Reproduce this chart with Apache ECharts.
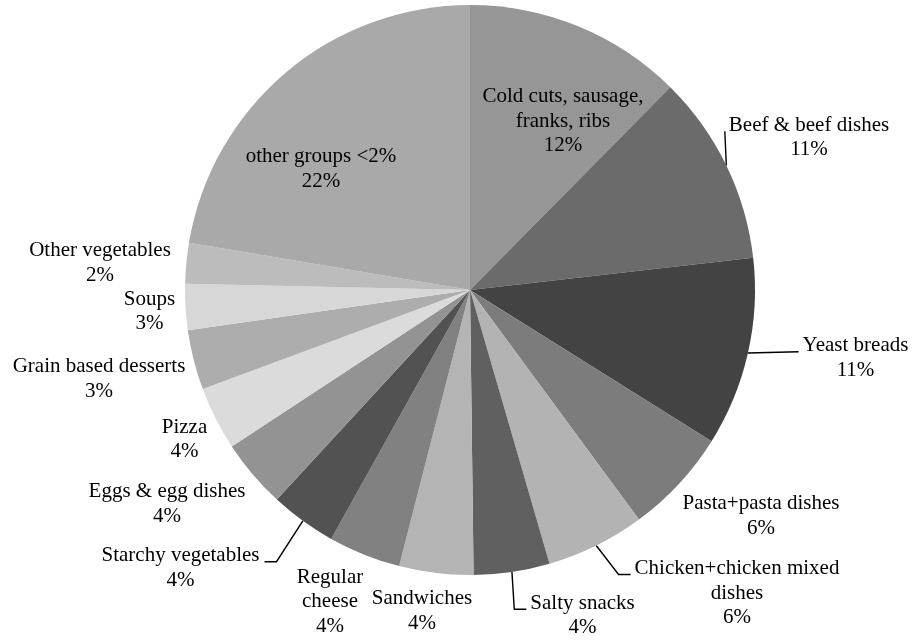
<!DOCTYPE html>
<html>
<head>
<meta charset="utf-8">
<script src="https://cdn.jsdelivr.net/npm/echarts@6/dist/echarts.min.js"></script>
<style>html,body{margin:0;padding:0;background:#fff}#c{width:913px;height:640px}</style>
</head>
<body>
<div id="c"></div>
<script>
// ---- data ----
const categories = [
  'Cold cuts, sausage,\nfranks, ribs',
  'Beef & beef dishes',
  'Yeast breads',
  'Pasta+pasta dishes',
  'Chicken+chicken mixed\ndishes',
  'Salty snacks',
  'Sandwiches',
  'Regular\ncheese',
  'Starchy vegetables',
  'Eggs & egg dishes',
  'Pizza',
  'Grain based desserts',
  'Soups',
  'Other vegetables',
  'other groups <2%'
];
const values = [12.4, 10.8, 10.7, 6.0, 5.6, 4.3, 4.2, 4.1, 3.75, 3.9, 3.6, 3.4, 2.6, 2.3, 22.35];

// ---- styles ----
const colors = ['#969696', '#6b6b6b', '#434343', '#7c7c7c', '#b3b3b3', '#606060', '#b4b4b4', '#818181',
                '#525252', '#939393', '#dbdbdb', '#adadad', '#d7d7d7', '#bcbcbc', '#a9a9a9'];
// label block centres (text placement) and leader line kind
const labelCenter = [[563,121],[809,137.5],[855.5,358],[761,516],[737,593],[582.5,615.5],[422,611],[330,601.5],
                     [180.5,568],[167,504],[184.5,439.5],[99,379],[149.5,311.5],[100,263],[321,169]];
const leader = ['none','direct','direct','none','shoulder','shoulder','none','none',
                'shoulder','none','none','none','none','none','none'];

const CX = 470, CY = 290, R = 285, FS = 21, LH = 24.5;

const total = values.reduce((a, b) => a + b, 0);
const midAngle = [];
let acc = 0;
values.forEach(v => { midAngle.push((acc + v / 2) / total * Math.PI * 2); acc += v; });

const chart = echarts.init(document.getElementById('c'), null, {renderer: 'canvas'});
chart.setOption({
  animation: false,
  backgroundColor: '#ffffff',
  series: [{
    type: 'pie',
    center: [CX, CY],
    radius: R,
    startAngle: 90,
    clockwise: true,
    avoidLabelOverlap: false,
    itemStyle: {borderWidth: 0},
    emphasis: {disabled: true},
    label: {
      show: true,
      position: 'outside',
      fontFamily: "'Liberation Serif', 'Times New Roman', serif",
      fontSize: FS,
      lineHeight: LH,
      color: '#000',
      formatter: p => p.name + '\n' + Math.round(p.percent) + '%'
    },
    labelLine: {lineStyle: {color: '#000', width: 1.4}, smooth: false},
    labelLayout: function (p) {
      const i = p.dataIndex;
      const x = labelCenter[i][0], y = labelCenter[i][1];
      const w = p.labelRect.width, h = p.labelRect.height;
      const out = {x: x, y: y, align: 'center', verticalAlign: 'middle'};
      if (leader[i] !== 'none') {
        const a = midAngle[i];
        const p0 = [CX + R * Math.sin(a), CY - R * Math.cos(a)];
        const right = x > CX;
        const ey = y - h / 2 + LH / 2 + 6;
        const ex = right ? x - w / 2 - 4 : x + w / 2 + 5;
        out.labelLinePoints = leader[i] === 'shoulder'
          ? [p0, [ex + (right ? -12 : 12), ey], [ex, ey]]
          : [p0, [ex, ey], [ex, ey]];
      }
      return out;
    },
    data: categories.map((n, i) => ({
      name: n,
      value: values[i],
      itemStyle: {color: colors[i]},
      labelLine: {show: leader[i] !== 'none'}
    }))
  }]
});
</script>
</body>
</html>
